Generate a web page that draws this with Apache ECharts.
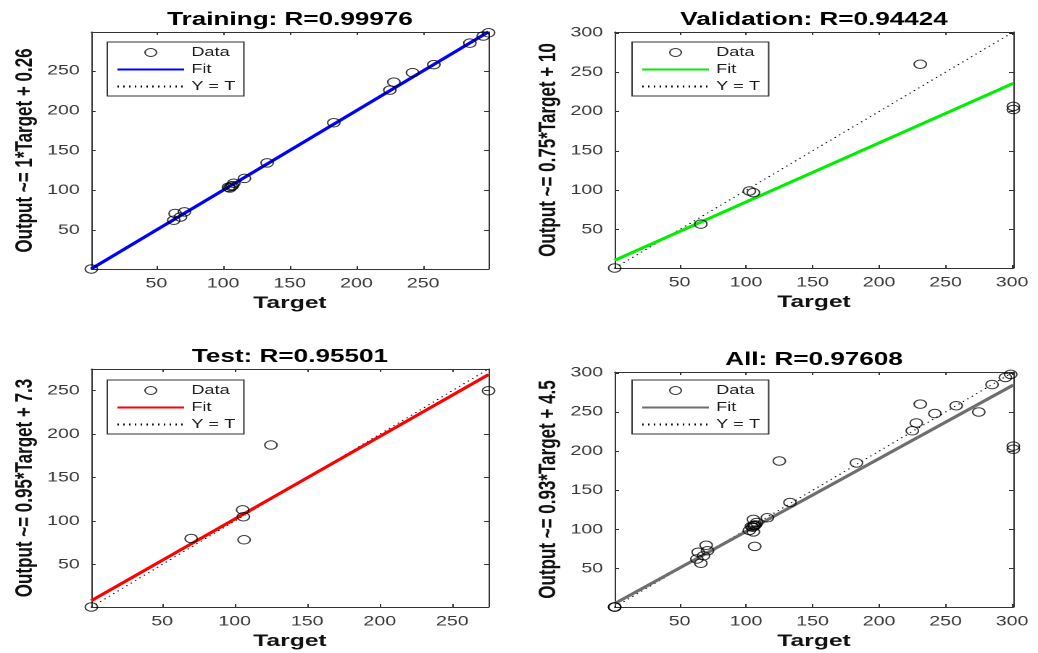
<!DOCTYPE html>
<html>
<head>
<meta charset="utf-8">
<script src="https://cdn.jsdelivr.net/npm/echarts@6/dist/echarts.min.js"></script>
<style>
html, body { margin: 0; padding: 0; background: #fff; overflow: hidden; }
/* the reference is a MATLAB figure stretched sideways, so draw narrow and stretch */
#chart { width: 716px; height: 653px; transform: scaleX(1.4497); transform-origin: 0 0; }
</style>
</head>
<body>
<div id="chart"></div>
<script>
const FONT = '"Liberation Sans", Arial, Helvetica, sans-serif';

// Training set
const trainTarget = [1.2, 63, 64, 68, 71, 104, 105, 106, 107, 108, 116, 133, 183, 225, 228, 242, 258, 285, 295, 299];
const trainOutput = [1.2, 62.5, 71, 66.5, 73, 104, 103, 105, 106, 109, 115, 134.5, 185, 226, 236, 248, 258, 285, 294, 298];
// Validation set
const valTarget = [1.2, 66, 102.5, 105.5, 231, 301, 301];
const valOutput = [1.2, 57, 99, 97, 260, 206.5, 202.5];
// Test set
const testTarget = [1.2, 70, 105.5, 106, 106.5, 125, 275];
const testOutput = [1.2, 80, 113, 105, 78.5, 187.5, 250];

// fit [slope, intercept] as printed on the y axis labels
const trainFit = [1, 0.26];
const valFit = [0.75, 10];
const testFit = [0.95, 7.3];
const allFit = [0.93, 4.5];

// axis limits (min, max of targets and outputs)
const trainLim = [1.2, 299];
const valLim = [1.2, 301];
const testLim = [1.2, 275];
const allLim = [1.2, 301];

// tick labels
const ticks250 = [50, 100, 150, 200, 250];
const ticks300 = [50, 100, 150, 200, 250, 300];

const panels = [
  { title: 'Training: R=0.99976', yName: 'Output ~= 1*Target + 0.26', color: '#0000ff',
    tx: trainTarget, ty: trainOutput, fit: trainFit, lim: trainLim, xt: ticks250, yt: ticks250,
    grid: { left: 63, top: 32, width: 274, height: 237 }, legend: { left: 74, top: 42 } },
  { title: 'Validation: R=0.94424', yName: 'Output ~= 0.75*Target + 10', color: '#00ee00',
    tx: valTarget, ty: valOutput, fit: valFit, lim: valLim, xt: ticks300, yt: ticks300,
    grid: { left: 424, top: 32, width: 275, height: 236 }, legend: { left: 436, top: 42 } },
  { title: 'Test: R=0.95501', yName: 'Output ~= 0.95*Target + 7.3', color: '#ff0000',
    tx: testTarget, ty: testOutput, fit: testFit, lim: testLim, xt: ticks250, yt: ticks250,
    grid: { left: 63, top: 369, width: 274, height: 238 }, legend: { left: 74, top: 380 } },
  { title: 'All: R=0.97608', yName: 'Output ~= 0.93*Target + 4.5', color: '#6e6e6e',
    tx: trainTarget.concat(valTarget, testTarget), ty: trainOutput.concat(valOutput, testOutput),
    fit: allFit, lim: allLim, xt: ticks300, yt: ticks300,
    grid: { left: 424, top: 372, width: 275, height: 235 }, legend: { left: 436, top: 380 } }
];

const axisColor = '#333';
const option = {
  animation: false,
  backgroundColor: '#fff',
  title: [], grid: [], legend: [], xAxis: [], yAxis: [], series: []
};

function edgeAxis(i, lim, vals, position) {
  return {
    type: 'value', gridIndex: i, position: position, min: lim[0], max: lim[1],
    axisLine: { show: true, onZero: false, lineStyle: { color: axisColor, width: 1 } },
    axisTick: { show: true, inside: true, length: 3, customValues: vals, lineStyle: { color: axisColor } },
    axisLabel: { show: false },
    splitLine: { show: false }
  };
}

const hidden = { color: 'rgba(0,0,0,0)', borderWidth: 0 };

panels.forEach((p, i) => {
  const lo = p.lim[0], hi = p.lim[1];
  option.grid.push(Object.assign({ show: false }, p.grid));

  option.title.push({
    text: p.title, left: p.grid.left + p.grid.width / 2, top: p.grid.top - 21,
    textAlign: 'center', padding: 0,
    textStyle: { fontFamily: FONT, fontSize: 18, fontWeight: 'bold', color: '#000' }
  });

  const label = { fontFamily: FONT, fontSize: 13.5, color: '#383838', margin: 8 };
  const nameStyle = { fontFamily: FONT, fontSize: 17, fontWeight: 'bold', color: '#111' };

  const xb = edgeAxis(i, p.lim, p.xt, 'bottom');
  xb.axisLabel = Object.assign({ show: true, customValues: p.xt }, label);
  xb.name = 'Target'; xb.nameLocation = 'middle'; xb.nameGap = 26; xb.nameTextStyle = nameStyle;
  option.xAxis.push(xb, edgeAxis(i, p.lim, p.xt, 'top'));

  const yl = edgeAxis(i, p.lim, p.yt, 'left');
  yl.axisLabel = Object.assign({ show: true, customValues: p.yt }, label);
  yl.name = p.yName; yl.nameLocation = 'middle'; yl.nameGap = 37; yl.nameTextStyle = nameStyle;
  option.yAxis.push(yl, edgeAxis(i, p.lim, p.yt, 'right'));

  option.series.push({
    name: 'Y = T#' + i, type: 'line', xAxisIndex: 2 * i, yAxisIndex: 2 * i,
    data: [[lo, lo], [hi, hi]], symbol: 'none', z: 2,
    lineStyle: { color: '#000', width: 1, type: [1, 3] }
  });
  option.series.push({
    name: 'Fit#' + i, type: 'line', xAxisIndex: 2 * i, yAxisIndex: 2 * i,
    data: [[lo, p.fit[0] * lo + p.fit[1]], [hi, p.fit[0] * hi + p.fit[1]]], symbol: 'none', z: 3,
    lineStyle: { color: p.color, width: 2.8 }
  });
  option.series.push({
    name: 'Data#' + i, type: 'scatter', xAxisIndex: 2 * i, yAxisIndex: 2 * i,
    data: p.tx.map((t, k) => [t, p.ty[k]]), symbol: 'circle', symbolSize: 8.5, z: 4,
    itemStyle: { color: 'rgba(0,0,0,0)', borderColor: '#000', borderWidth: 1 }
  });

  option.legend.push({
    left: p.legend.left, top: p.legend.top, orient: 'vertical',
    itemWidth: 46, itemHeight: 8, itemGap: 4, padding: [4, 6, 3, 6],
    borderColor: axisColor, borderWidth: 1, backgroundColor: '#fff', selectedMode: false,
    textStyle: { fontFamily: FONT, fontSize: 12.5, color: '#1a1a1a' },
    formatter: n => n.split('#')[0],
    data: [
      { name: 'Data#' + i, icon: 'circle',
        itemStyle: { color: 'rgba(0,0,0,0)', borderColor: '#000', borderWidth: 1 } },
      { name: 'Fit#' + i, itemStyle: hidden },
      { name: 'Y = T#' + i, itemStyle: hidden }
    ]
  });
});

const chart = echarts.init(document.getElementById('chart'), null, { devicePixelRatio: 2 });
chart.setOption(option);
</script>
</body>
</html>
